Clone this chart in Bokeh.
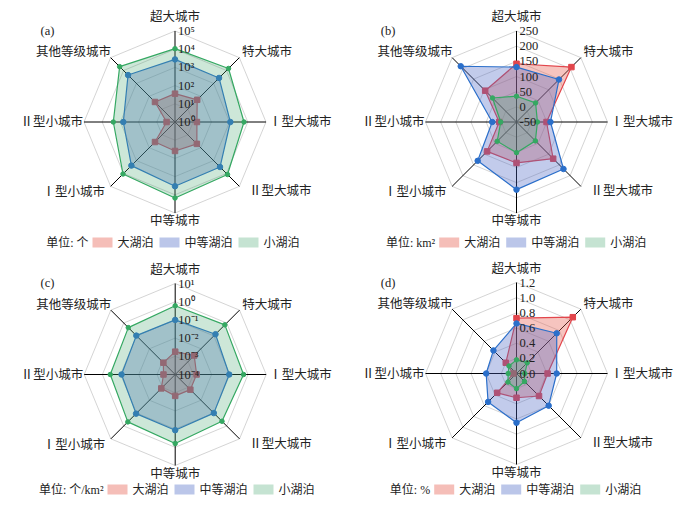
import numpy as np
from bokeh.plotting import figure
from bokeh.models import Range1d
from bokeh.core.properties import value
from bokeh.embed import file_html
from bokeh.resources import INLINE

# ---------------- data ----------------
categories = ["超大城市", "特大城市", "Ⅰ型大城市", "Ⅱ型大城市",
              "中等城市", "Ⅰ型小城市", "Ⅱ型小城市", "其他等级城市"]
series_names = ["大湖泊", "中等湖泊", "小湖泊"]

# (a) number of lakes (个), log scale
count_large = [36, 53, 16, 50, 39, 36, 2.9, 36]
count_medium = [2750, 2650, 1100, 3150, 3400, 2450, 690, 4450]
count_small = [10700, 14400, 6200, 12000, 15000, 11000, 2450, 20000]

# (b) lake area (km²)
area_large = [142, 206, 49, 121, 85, 87, 7, 96]
area_medium = [131, 148, 62, 169, 173, 131, 30, 210]
area_small = [35, 39, 19, 38, 51, 40, 2, 62]

# (c) lake density (个/km²), log scale
density_large = [0.0018, 0.0030, 0.0015, 0.0015, 0.0015, 0.0012, 0.00044, 0.00083]
density_medium = [0.10, 0.135, 0.093, 0.10, 0.115, 0.11, 0.089, 0.105]
density_small = [0.60, 0.72, 0.57, 0.43, 0.62, 0.48, 0.37, 0.44]

# (d) lake area ratio (%)
ratio_large = [0.73, 1.05, 0.41, 0.42, 0.32, 0.36, 0.04, 0.20]
ratio_medium = [0.66, 0.75, 0.53, 0.60, 0.65, 0.53, 0.40, 0.43]
ratio_small = [0.18, 0.20, 0.11, 0.15, 0.20, 0.16, 0.11, 0.14]

ticks_a = ["10⁰", "10¹", "10²", "10³", "10⁴", "10⁵"]
ticks_b = ["-50", "0", "50", "100", "150", "200", "250"]
ticks_c = ["10⁻⁴", "10⁻³", "10⁻²", "10⁻¹", "10⁰", "10¹"]
ticks_d = ["0.0", "0.2", "0.4", "0.6", "0.8", "1.0", "1.2"]

units = ["个", "km²", "个/km²", "%"]
panel_tags = ["(a)", "(b)", "(c)", "(d)"]

# ---------------- styling / layout ----------------
line_colors = ["#e2464c", "#2b6fca", "#35a862"]
fill_colors = ["#e65c4e", "#4d68c4", "#4aa872"]
fill_alphas = [0.36, 0.34, 0.28]
R = 91.0
cjk = value("Liberation Serif, Noto Sans CJK SC")
serif = value("Liberation Serif")

panels = [
    dict(series=[count_large, count_medium, count_small], log=True, lo=0, hi=5,
         ticks=ticks_a, cx=182.5, cy=129.5, tag=(55, 38), leg_y=250, leg_x=100),
    dict(series=[area_large, area_medium, area_small], log=False, lo=-50, hi=250,
         ticks=ticks_b, cx=524.0, cy=129.5, tag=(395.5, 38), leg_y=250, leg_x=446.7),
    dict(series=[density_large, density_medium, density_small], log=True, lo=-4, hi=1,
         ticks=ticks_c, cx=182.7, cy=382.0, tag=(55, 290), leg_y=497, leg_x=115),
    dict(series=[ratio_large, ratio_medium, ratio_small], log=False, lo=0, hi=1.2,
         ticks=ticks_d, cx=524.0, cy=381.0, tag=(395.5, 290), leg_y=497, leg_x=441.7),
]

label_pos = [(0, -105, "center"), (67, -70, "left"), (94, 0, "left"), (74, 69, "left"),
             (0, 99, "center"), (-70, 70, "right"), (-92, 0, "right"), (-64, -70, "right")]

p = figure(width=675, height=498, output_backend="svg", toolbar_location=None,
           x_range=Range1d(8, 683), y_range=Range1d(506, 8),
           x_axis_location=None, y_axis_location=None, min_border=0,
           outline_line_color=None, background_fill_color="white")
p.grid.visible = False

n = len(categories)
ang = np.arange(n) * 2 * np.pi / n
sx = np.sin(ang)
cy_dir = -np.cos(ang)

for k, pan in enumerate(panels):
    cx, cy = pan["cx"], pan["cy"]
    nt = len(pan["ticks"]) - 1

    # grid rings
    rings_x, rings_y = [], []
    for j in range(1, nt + 1):
        r = R * j / nt
        rings_x.append(list(cx + r * np.append(sx, sx[0])))
        rings_y.append(list(cy + r * np.append(cy_dir, cy_dir[0])))
    p.multi_line(rings_x, rings_y, line_color="#c9c9c9", line_width=0.8)

    # spokes
    p.segment(x0=[cx] * n, y0=[cy] * n, x1=list(cx + R * sx), y1=list(cy + R * cy_dir),
              line_color="black", line_width=1.0)

    # series
    markers = ["square", "circle", "circle"]
    msizes = [5.5, 5.5, 4.5]
    for s, vals in enumerate(pan["series"]):
        v = np.array(vals, dtype=float)
        if pan["log"]:
            frac = (np.log10(v) - pan["lo"]) / (pan["hi"] - pan["lo"])
        else:
            frac = (v - pan["lo"]) / (pan["hi"] - pan["lo"])
        r = R * frac
        xs = cx + r * sx
        ys = cy + r * cy_dir
        p.patch(list(xs), list(ys), fill_color=fill_colors[s], fill_alpha=fill_alphas[s],
                line_color=line_colors[s], line_width=1.2)
        p.scatter(list(xs), list(ys), marker=markers[s], size=msizes[s],
                  fill_color=line_colors[s], line_color=line_colors[s])

    # tick labels
    tx = [cx + 3] * (nt + 1)
    ty = [cy - R * j / nt for j in range(nt + 1)]
    p.text(tx, ty, text=pan["ticks"], text_align="left", text_baseline="middle",
           text_font=serif, text_font_size="12.5px", text_color="#222222")

    # category labels
    for i, cat in enumerate(categories):
        dx, dy, al = label_pos[i]
        p.text([cx + dx], [cy + dy], text=[cat], text_align=al, text_baseline="middle",
               text_font=cjk, text_font_size="12.5px", text_color="#222222")

    # panel tag
    p.text([pan["tag"][0]], [pan["tag"][1]], text=[panel_tags[k]], text_align="center",
           text_baseline="middle", text_font=serif, text_font_size="12.5px", text_color="#222222")

    # legend
    lx, ly = pan["leg_x"], pan["leg_y"]
    p.text([lx - 4], [ly], text=["单位: " + units[k]], text_align="right", text_baseline="middle",
           text_font=cjk, text_font_size="12px", text_color="#222222")
    x0 = lx
    widths = [36, 48, 36]
    for s, name in enumerate(series_names):
        p.rect([x0 + 10], [ly], width=20, height=10, fill_color=fill_colors[s],
               fill_alpha=fill_alphas[s] + 0.04, line_color=None)
        p.text([x0 + 25], [ly], text=[name], text_align="left", text_baseline="middle",
               text_font=cjk, text_font_size="12px", text_color="#222222")
        x0 = x0 + 25 + widths[s] + 6

open("out.html", "w").write(file_html(p, INLINE))
